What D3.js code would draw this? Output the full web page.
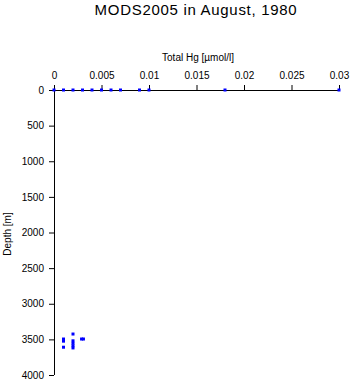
<!DOCTYPE html>
<html>
<head>
<meta charset="utf-8">
<script src="https://cdn.jsdelivr.net/npm/d3@7"></script>
<style>
  body { margin: 0; background: #fff; }
  svg { font-family: "Liberation Sans", Arial, sans-serif; }
</style>
</head>
<body>
<svg id="chart" width="353" height="384"></svg>
<script>
// Surface samples (depth 0 m)
const surfaceHg = [0, 0.001, 0.002, 0.003, 0.004, 0.005, 0.006, 0.007, 0.009, 0.01, 0.018, 0.03];
// Deep samples
const deepHg = [0.001, 0.001, 0.001, 0.002, 0.002, 0.002, 0.002, 0.002, 0.0029, 0.0031];
const deepDepth = [3495, 3525, 3610, 3425, 3520, 3555, 3590, 3620, 3495, 3495];

const xTicks = [0, 0.005, 0.01, 0.015, 0.02, 0.025, 0.03];
const yTicks = [0, 500, 1000, 1500, 2000, 2500, 3000, 3500, 4000];

const points = surfaceHg.map(v => ({ hg: v, depth: 0 }))
    .concat(deepHg.map((v, i) => ({ hg: v, depth: deepDepth[i] })));

const dims = { left: 54, right: 339, top: 90, bottom: 375 };

const svg = d3.select("#chart");

const xScale = d3.scaleLinear()
    .domain([0, 0.03])
    .range([dims.left, dims.right]);

const yScale = d3.scaleLinear()
    .domain([0, 4000])
    .range([dims.top, dims.bottom]);

// Title
svg.append("text")
    .attr("x", 196)
    .attr("y", 15)
    .attr("text-anchor", "middle")
    .style("font-size", "15px")
    .style("letter-spacing", "0.7px")
    .text("MODS2005 in August, 1980");

// Top axis
const xAxis = svg.append("g")
    .attr("transform", `translate(0,${dims.top})`)
    .call(d3.axisTop(xScale).tickValues(xTicks).tickSize(5).tickPadding(6)
        .tickFormat(d => String(+d.toFixed(3))));
xAxis.select(".domain").attr("d", `M${dims.left},0.5H${dims.right}`);
xAxis.selectAll("text").style("font-size", "10px").style("font-family", "Liberation Sans, Arial, sans-serif");

svg.append("text")
    .attr("x", 198)
    .attr("y", 61)
    .attr("text-anchor", "middle")
    .style("font-size", "10px")
    .text("Total Hg [µmol/l]");

// Left axis
const yAxis = svg.append("g")
    .attr("transform", `translate(${dims.left},0)`)
    .call(d3.axisLeft(yScale).tickValues(yTicks).tickSize(5).tickPadding(5)
        .tickFormat(d => String(d)));
yAxis.select(".domain").attr("d", `M0.5,${dims.top}V${dims.bottom}`);
yAxis.selectAll("text").style("font-size", "10px").style("font-family", "Liberation Sans, Arial, sans-serif");

svg.append("text")
    .attr("transform", `translate(11,234) rotate(-90)`)
    .attr("text-anchor", "middle")
    .style("font-size", "10px")
    .text("Depth [m]");

// Data points
svg.append("g")
    .selectAll("rect")
    .data(points)
    .enter()
    .append("rect")
    .attr("x", d => xScale(d.hg) - 1.5)
    .attr("y", d => yScale(d.depth) - 1.5)
    .attr("width", 3)
    .attr("height", 3)
    .attr("fill", "#0000ff");
</script>
</body>
</html>
